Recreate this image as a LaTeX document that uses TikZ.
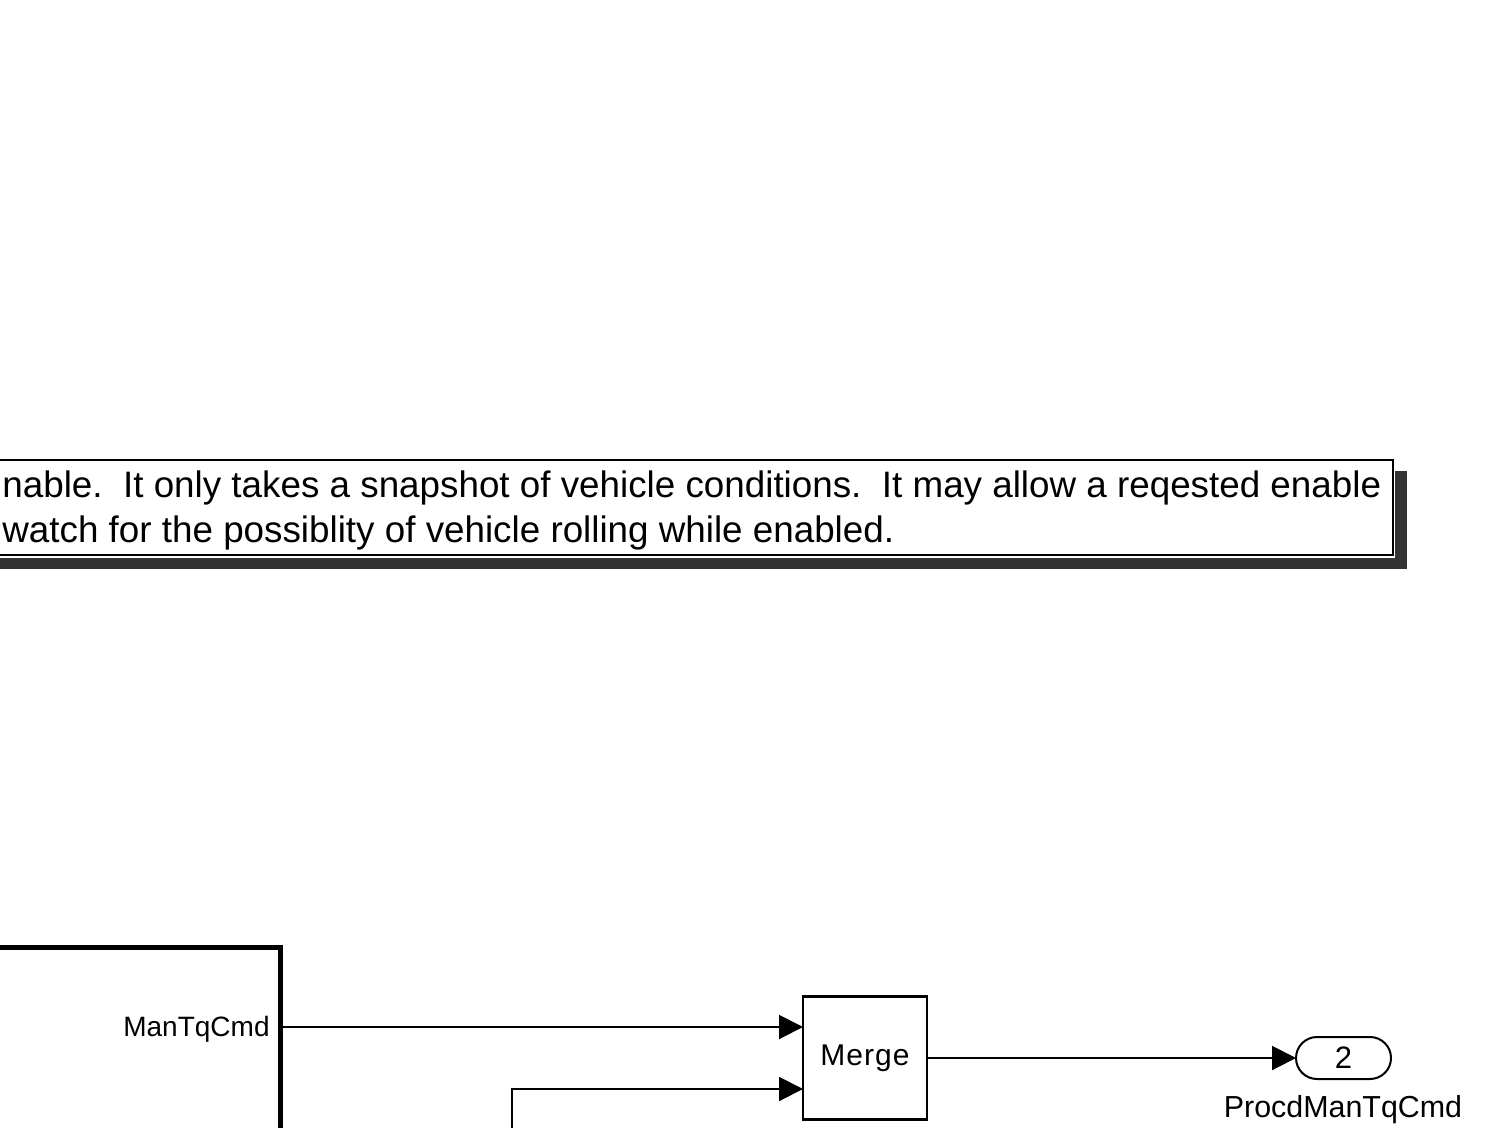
\documentclass[tikz,border=0pt]{standalone}
\usepackage{fontspec}
\setmainfont{Liberation Sans}
\usetikzlibrary{arrows.meta}
\definecolor{shadowgray}{RGB}{51,51,51}
\tikzset{
  sig/.style={line width=1pt, -{Triangle[length=12pt,width=12pt]}},
  blk/.style={draw, line width=1.2pt, fill=white, inner sep=0pt, outer sep=0pt},
  lbl/.style={inner sep=0pt, font=\fontsize{14pt}{16pt}\selectfont},
  note/.style={inner sep=0pt, anchor=base west, font=\fontsize{18.4pt}{22pt}\selectfont}
}
\begin{document}
\begin{tikzpicture}[x=0.5pt,y=-0.5pt]
\useasboundingbox (0,0) rectangle (1503,1128);
% annotation box with shadow
\fill[shadowgray] (-20,471) rectangle (1407,569);
\fill[white] (-20,460) rectangle (1395,557.5);
\draw[line width=1pt] (-20,460) -- (1393,460) -- (1393,555) -- (-20,555);
\node[note] (n1) at (2,497) {nable.\ \ It only takes a snapshot of vehicle conditions.\ \ It may allow a reqested enable};
\node[note] (n2) at (2,542) {watch for the possiblity of vehicle rolling while enabled.};
% subsystem block (partly visible)
\node[draw, line width=2.5pt, minimum width=190pt, minimum height=200pt, anchor=north east, inner sep=0pt, outer sep=0pt] (sub) at (280,947) {};
\node[lbl, anchor=base east] (pman) at (270,1036) {ManTqCmd};
\coordinate (o1) at (282,1027);
% merge block
\node[blk, minimum width=62pt, minimum height=61.5pt, font=\fontsize{15pt}{17pt}\selectfont] (m) at (865,1058) {M\kern0.5pt e\kern0.5pt r\kern0.5pt g\kern0.5pt e};
\coordinate (m1) at (803,1027);
\coordinate (m2) at (803,1089);
\coordinate (src2) at (512,1140);
% outport
\node[draw, line width=1pt, minimum width=47.5pt, minimum height=21pt, rounded corners=10.5pt, inner sep=0pt, outer sep=0pt, font=\fontsize{15.5pt}{17pt}\selectfont] (out) at (1343.5,1058) {2};
\node[lbl, anchor=base, font=\fontsize{15.2pt}{17pt}\selectfont] (outl) at (1343,1117) {ProcdManTqCmd};
% connectors
\draw[sig] (o1) -- (m1);
\draw[sig] (src2) |- (m2);
\draw[sig] (m.east) -- (out.west);
\end{tikzpicture}
\end{document}
